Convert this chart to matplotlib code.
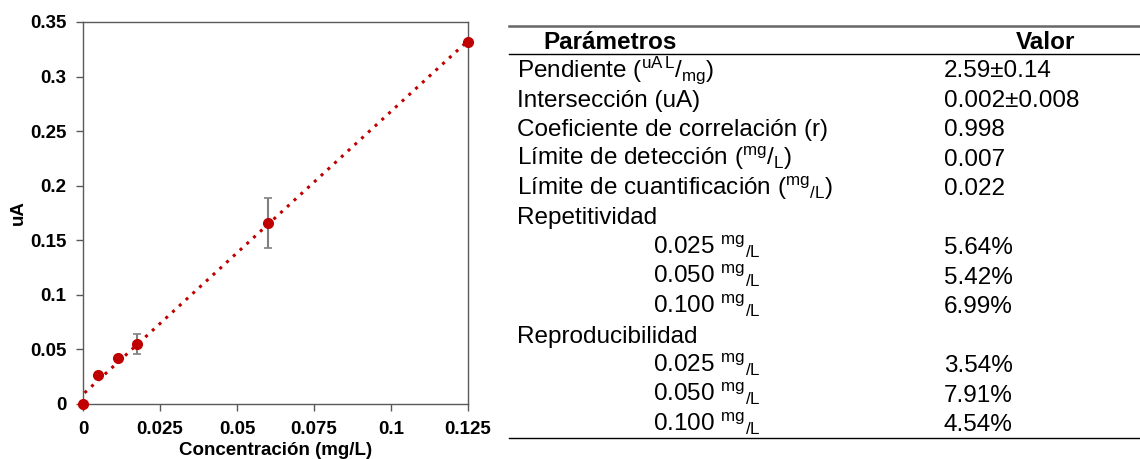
import numpy as np
import matplotlib
matplotlib.use("Agg")
import matplotlib.pyplot as plt
from matplotlib.lines import Line2D

plt.rcParams["font.family"] = ["Liberation Sans", "DejaVu Sans"]
plt.rcParams["mathtext.fontset"] = "custom"
plt.rcParams["mathtext.rm"] = "Liberation Sans"
plt.rcParams["mathtext.it"] = "Liberation Sans:italic"
plt.rcParams["mathtext.bf"] = "Liberation Sans:bold"

# calibration data
conc = [0.0, 0.005, 0.0115, 0.0175, 0.060, 0.125]
signal = [0.0, 0.0265, 0.042, 0.055, 0.166, 0.3315]
signal_err = [0.0, 0.0, 0.0, 0.0095, 0.023, 0.0]

x_ticks = [0, 0.025, 0.05, 0.075, 0.1, 0.125]
x_ticklabels = ["0", "0.025", "0.05", "0.075", "0.1", "0.125"]
y_ticks = [0, 0.05, 0.1, 0.15, 0.2, 0.25, 0.3, 0.35]
y_ticklabels = ["0", "0.05", "0.1", "0.15", "0.2", "0.25", "0.3", "0.35"]

# parameter table
MGL = r"$\mathregular{^{mg}{}_{/L}}$"
param_labels = [
    r"Pendiente ($\mathregular{^{uA\,L}/_{mg}}$)",
    "Intersección (uA)",
    "Coeficiente de correlación (r)",
    r"Límite de detección ($\mathregular{^{mg}/_{L}}$)",
    "Límite de cuantificación (" + MGL + ")",
    "Repetitividad",
    "0.025 " + MGL,
    "0.050 " + MGL,
    "0.100 " + MGL,
    "Reproducibilidad",
    "0.025 " + MGL,
    "0.050 " + MGL,
    "0.100 " + MGL,
]
param_values = [
    "2.59±0.14", "0.002±0.008", "0.998", "0.007", "0.022", "",
    "5.64%", "5.42%", "6.99%", "",
    "3.54%", "7.91%", "4.54%",
]
param_indent = [False, False, False, False, False, False,
                True, True, True, False, True, True, True]

W, H = 1140, 459
RED = "#c00000"


def fx(px):
    return px / W


def fy(py):
    return 1 - py / H


fig = plt.figure(figsize=(W / 100, H / 100), dpi=100)
ax = fig.add_axes([fx(83), fy(404), fx(468) - fx(83), fy(22) - fy(404)])

slope, intercept = np.polyfit(conc, signal, 1)
xfit = np.array([0.0005, max(conc)])
ax.plot(xfit, slope * xfit + intercept, color=RED, linestyle=(0, (1, 2)),
        linewidth=2.2, zorder=2)
ax.errorbar(conc, signal, yerr=signal_err, fmt="none", ecolor="#808080",
            elinewidth=1.5, capsize=3, capthick=1.2, zorder=3)
ax.plot(conc, signal, "o", color=RED, markersize=7, zorder=4, clip_on=False)

ax.set_xlim(0, 0.125)
ax.set_ylim(0, 0.35)
ax.set_xticks(x_ticks)
ax.set_xticklabels(x_ticklabels)
ax.set_yticks(y_ticks)
ax.set_yticklabels(y_ticklabels)
ax.tick_params(direction="out", length=5, width=1, color="#595959",
               labelsize=13.5, pad=7)
for lab in ax.get_xticklabels() + ax.get_yticklabels():
    lab.set_fontweight("bold")
for sp in ax.spines.values():
    sp.set_color("#595959")
    sp.set_linewidth(1)
ax.set_xlabel("Concentración (mg/L)", fontsize=13.5, fontweight="bold", labelpad=3)
ax.set_ylabel("uA", fontsize=13.5, fontweight="bold", labelpad=2)

# table
fig.add_artist(Line2D([fx(509), 1], [fy(26), fy(26)], transform=fig.transFigure,
                      color="#666666", linewidth=1.8))
fig.add_artist(Line2D([fx(509), 1], [fy(54), fy(54)], transform=fig.transFigure,
                      color="black", linewidth=1.0))
fig.add_artist(Line2D([fx(509), 1], [fy(438), fy(438)], transform=fig.transFigure,
                      color="black", linewidth=1.0))

fig.text(fx(543), fy(49), "Parámetros", fontsize=17.5, fontweight="bold", va="baseline")
fig.text(fx(1016), fy(49), "Valor", fontsize=17.5, fontweight="bold", va="baseline")

row_step = 29.5
for i, (lab, val, ind) in enumerate(zip(param_labels, param_values, param_indent)):
    base = 77 + i * row_step
    fig.text(fx(653 if ind else 517), fy(base), lab, fontsize=17.5, va="baseline")
    if val:
        fig.text(fx(944), fy(base), val, fontsize=17.5, va="baseline")

fig.savefig("out.png", dpi=100)
